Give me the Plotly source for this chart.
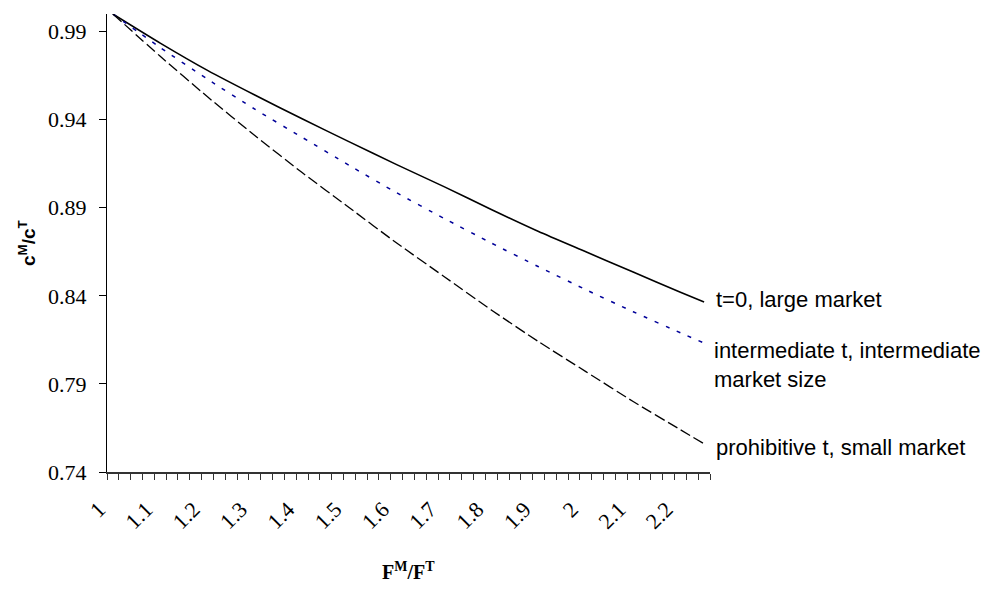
import plotly.graph_objects as go

# Data
x_vals = [1.0, 1.1, 1.2, 1.3, 1.4, 1.5, 1.6, 1.7, 1.8, 1.9, 2.0, 2.1, 2.2, 2.25]
large_market = [1.000, 0.9835, 0.968, 0.954, 0.9405, 0.9274, 0.9145, 0.902, 0.889,
                0.8765, 0.865, 0.8535, 0.842, 0.8365]
intermediate = [1.000, 0.981, 0.963, 0.946, 0.930, 0.914, 0.8985, 0.884, 0.870,
                0.8565, 0.8435, 0.831, 0.819, 0.8132]
small_market = [1.000, 0.976, 0.953, 0.931, 0.910, 0.890, 0.870, 0.851, 0.832,
                0.814, 0.797, 0.780, 0.764, 0.756]

x_tick_vals = [1.0, 1.1, 1.2, 1.3, 1.4, 1.5, 1.6, 1.7, 1.8, 1.9, 2.0, 2.1, 2.2]
x_tick_text = ["1", "1.1", "1.2", "1.3", "1.4", "1.5", "1.6", "1.7", "1.8", "1.9", "2", "2.1", "2.2"]
y_tick_vals = [0.74, 0.79, 0.84, 0.89, 0.94, 0.99]
y_tick_text = ["0.74", "0.79", "0.84", "0.89", "0.94", "0.99"]

labels = ["t=0, large market",
          "intermediate t, intermediate<br>market size",
          "prohibitive t, small market"]

fig = go.Figure()
fig.add_trace(go.Scatter(x=x_vals, y=large_market, mode="lines",
                         line=dict(color="#000000", width=1.6, shape="spline", smoothing=0.6),
                         name=labels[0], showlegend=False))
fig.add_trace(go.Scatter(x=x_vals, y=intermediate, mode="lines",
                         line=dict(color="#000099", width=1.5, dash="4px,8px", shape="spline", smoothing=0.6),
                         name=labels[1], showlegend=False))
fig.add_trace(go.Scatter(x=x_vals, y=small_market, mode="lines",
                         line=dict(color="#000000", width=1.3, dash="11px,4px", shape="spline", smoothing=0.6),
                         name=labels[2], showlegend=False))

label_font = dict(family="Liberation Sans, Arial, sans-serif", size=22, color="#000000")
fig.add_annotation(x=x_vals[-1], y=large_market[-1], xref="x", yref="y", text=labels[0],
                   showarrow=False, xanchor="left", yanchor="middle", xshift=10, yshift=3,
                   font=label_font, align="left")
fig.add_annotation(x=x_vals[-1], y=intermediate[-1], xref="x", yref="y", text=labels[1],
                   showarrow=False, xanchor="left", yanchor="middle", xshift=8, yshift=-22,
                   font=label_font, align="left")
fig.add_annotation(x=x_vals[-1], y=small_market[-1], xref="x", yref="y", text=labels[2],
                   showarrow=False, xanchor="left", yanchor="middle", xshift=10, yshift=-4,
                   font=label_font, align="left")

# axis titles
fig.add_annotation(xref="paper", yref="paper", x=-(107 - 27) / 603, y=0.5,
                   text="<b>c<sup>M</sup>/c<sup>T</sup></b>", textangle=-90, showarrow=False,
                   xanchor="center", yanchor="middle",
                   font=dict(family="Liberation Sans, Arial, sans-serif", size=19, color="#000000"))
fig.add_annotation(xref="paper", yref="paper", x=0.5, y=-(571 - 472) / 458,
                   text="<b>F<sup>M</sup>/F<sup>T</sup></b>", showarrow=False,
                   xanchor="center", yanchor="middle",
                   font=dict(family="Liberation Serif, Times New Roman, serif", size=20, color="#000000"))

tick_font = dict(family="Liberation Serif, Times New Roman, serif", size=22, color="#000000")

fig.update_layout(
    width=982, height=581,
    margin=dict(l=99, r=280, t=6, b=117),
    paper_bgcolor="white", plot_bgcolor="white",
    xaxis=dict(
        range=[0.9875, 2.2625], showgrid=False, zeroline=False,
        tickmode="array", tickvals=x_tick_vals, ticktext=x_tick_text,
        tickangle=-45, ticks="", tickfont=tick_font,
        ticklabelstandoff=14, ticklabelshift=-14,
        showline=True, linecolor="#333333", linewidth=1.5,
        minor=dict(tickmode="linear", tick0=0.9875, dtick=0.025, ticks="outside",
                   ticklen=6, tickcolor="#333333", tickwidth=1, showgrid=False),
    ),
    yaxis=dict(
        range=[0.74, 1.0], showgrid=False, zeroline=False,
        tickmode="array", tickvals=y_tick_vals, ticktext=y_tick_text,
        ticks="outside", ticklen=7, tickcolor="#000000", tickwidth=1,
        tickfont=tick_font, ticklabelstandoff=8,
        showline=True, linecolor="#000000", linewidth=1,
    ),
)

fig.write_html("out.html")
